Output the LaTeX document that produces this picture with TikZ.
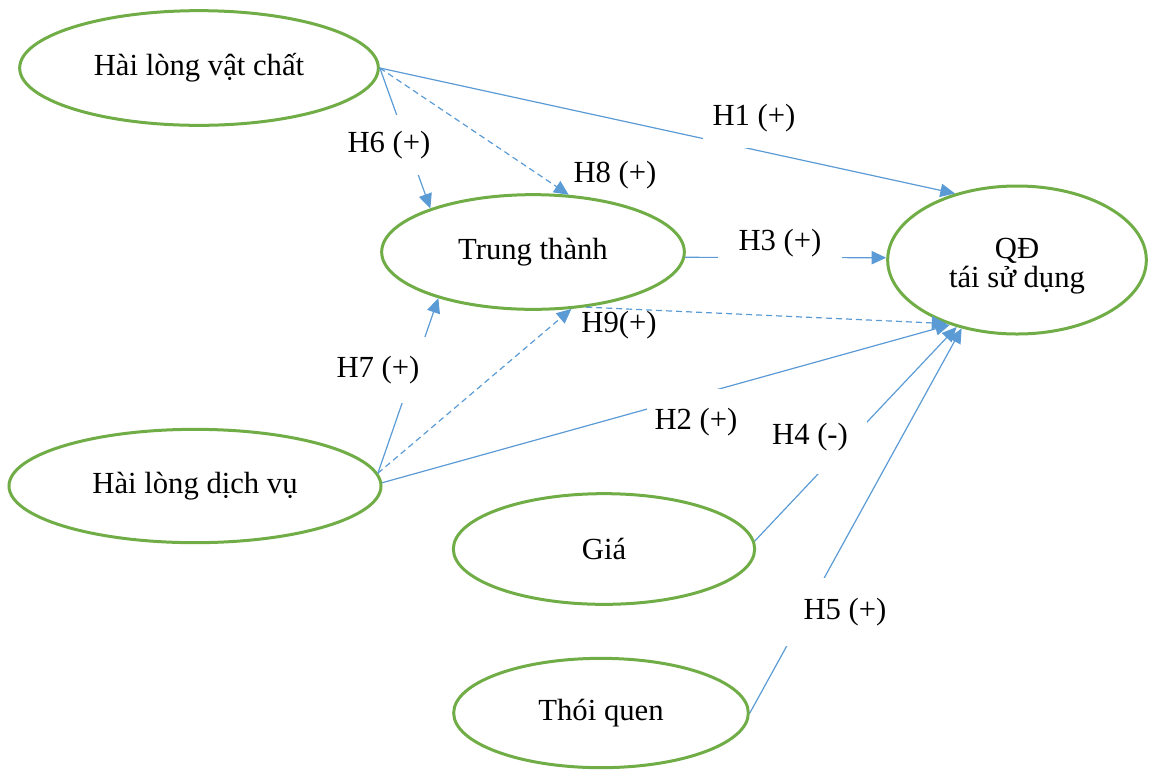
\documentclass[tikz,border=0pt]{standalone}
\usepackage{fontspec}
\setmainfont{Liberation Serif}
\usetikzlibrary{arrows.meta,shapes.geometric}
\definecolor{ellgreen}{HTML}{70AD47}
\definecolor{arrblue}{HTML}{5B9BD5}
\begin{document}
\begin{tikzpicture}[x=0.75pt,y=-0.75pt]

    \tikzset{
      factor/.style={
        draw=ellgreen,
        line width=2.25pt,
        ellipse,
        inner sep=0pt,
        align=center,
        font=\fontsize{23}{22}\selectfont,
      },
      hyp/.style={
        draw=arrblue,
        line width=0.9pt,
        -{Triangle[length=11pt,width=10pt]},
      },
      hypdash/.style={
        hyp,
        dash pattern=on 4.5pt off 3pt,
      },
      hlabel/.style={
        fill=white,
        inner sep=0pt,
        font=\fontsize{23}{22}\selectfont,
      },
    }
    \useasboundingbox (0,0) rectangle (1153,776);
    \node[factor, minimum width=269pt, minimum height=86pt] (vc) at (199,68) {Hài lòng vật chất};
    \node[factor, minimum width=227pt, minimum height=86pt] (tt) at (533,252) {Trung thành};
    \node[factor, minimum width=194pt, minimum height=111pt, text height=46pt] (qd) at (1017,260) {QĐ\\tái sử dụng};
    \node[factor, minimum width=279pt, minimum height=85pt] (dv) at (195,486) {Hài lòng dịch vụ};
    \node[factor, minimum width=226pt, minimum height=83pt] (gia) at (604,549) {Giá};
    \node[factor, minimum width=221pt, minimum height=82pt] (tq) at (601,713) {Thói quen};

    \draw[hyp] (vc.east) -- (qd.133);
    \draw[hyp] (vc.east) -- (tt.157);
    \draw[hypdash] (vc.east) -- (tt.58);
    \draw[hyp] (tt.-2) -- (qd.179);
    \draw[hyp] (dv.4) -- (tt.-154);
    \draw[hypdash] (dv.4) -- (tt.-56);
    \draw[hypdash] (tt.-46) -- (qd.-138);
    \draw[hyp] (dv.1) -- (qd.-136);
    \draw[hyp] (gia.3) -- (qd.-132);
    \draw[hyp] (tq.east) -- (qd.-129);

    \node[hlabel, minimum width=76.5pt, minimum height=45pt] (l1) at (754,118) {H1 (+)};
    \node[hlabel, minimum width=73.5pt, minimum height=45pt] (l6) at (389,145) {H6 (+)};
    \node[hlabel, fill=none] (l8) at (615,175) {H8 (+)};
    \node[hlabel, minimum width=93pt, minimum height=45pt] (l3) at (780,243) {H3 (+)};
    \node[hlabel, fill=none] (l9) at (619,325) {H9(+)};
    \node[hlabel, minimum width=75pt, minimum height=49.5pt] (l7) at (378,370) {H7 (+)};
    \node[hlabel, minimum width=73pt, minimum height=49.5pt] (l2) at (696,422) {H2 (+)};
    \node[hlabel, minimum width=85.5pt, minimum height=55.5pt] (l4) at (810,437) {H4 (-)};
    \node[hlabel, minimum width=90pt, minimum height=51pt] (l5) at (845,612) {H5 (+)};

\end{tikzpicture}
\end{document}
